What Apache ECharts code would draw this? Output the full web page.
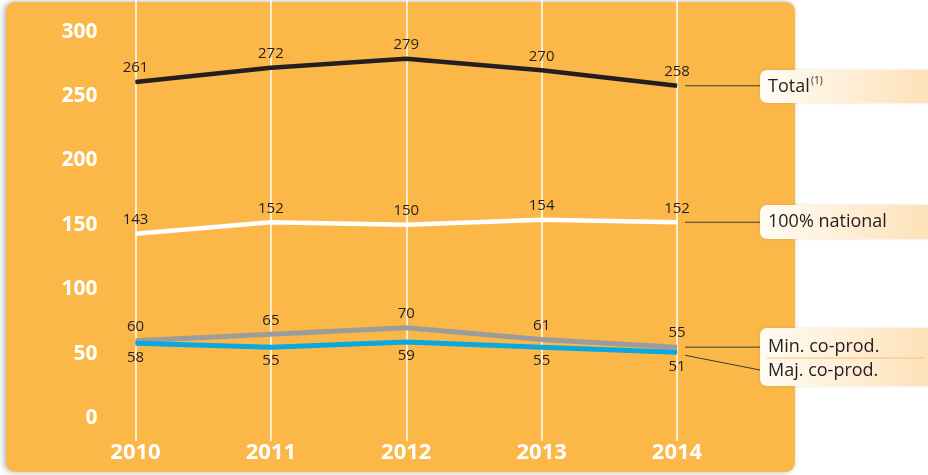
<!DOCTYPE html>
<html>
<head>
<meta charset="utf-8">
<script src="https://cdn.jsdelivr.net/npm/echarts@6/dist/echarts.min.js"></script>
<style>
  html, body { margin: 0; padding: 0; background: #ffffff; }
  #main { width: 928px; height: 475px; }
</style>
</head>
<body>
<div id="main"></div>
<script>
// data
var years = ['2010', '2011', '2012', '2013', '2014'];
var totalVals = [261, 272, 279, 270, 258];
var nationalVals = [143, 152, 150, 154, 152];
var minCoProd = [60, 65, 70, 61, 55];
var majCoProd = [58, 55, 59, 55, 51];
var yTicks = [0, 50, 100, 150, 200, 250, 300];

var FONT = '"Open Sans", "Noto Sans", sans-serif';
var DARK = '#231f20';

var chart = echarts.init(document.getElementById('main'));

function dataLabel(pos) {
	return {
		show: true,
		position: pos,
		distance: 6,
		color: DARK,
		fontSize: 15,
		fontFamily: FONT
	};
}

function lineSeries(name, data, color, width, pos) {
	return {
		name: name,
		type: 'line',
		data: data,
		symbol: 'circle',
		symbolSize: 1,
		showSymbol: true,
		itemStyle: { color: color },
		lineStyle: { color: color, width: width },
		label: dataLabel(pos),
		labelLayout: { hideOverlap: false }
	};
}

chart.setOption({
	animation: false,
	textStyle: { fontFamily: FONT },
	grid: { left: 135.5, right: 251, top: 0, bottom: 34 },
	xAxis: {
		type: 'category',
		data: years,
		boundaryGap: false,
		axisLine: { show: false },
		axisTick: { show: false },
		splitLine: { show: true, interval: 0, lineStyle: { color: '#ffffff', width: 1.5 } },
		axisLabel: {
			interval: 0,
			margin: 1,
			color: '#ffffff',
			fontSize: 22,
			fontWeight: 'bold',
			fontFamily: FONT
		}
	},
	yAxis: {
		type: 'value',
		min: -17.9,
		max: 324.6,
		axisLine: { show: false },
		axisTick: { show: false },
		splitLine: { show: false },
		axisLabel: {
			customValues: yTicks,
			margin: 38,
			color: '#ffffff',
			fontSize: 21,
			fontWeight: 'bold',
			fontFamily: FONT
		}
	},
	series: [
		lineSeries('Total', totalVals, DARK, 4.5, 'top'),
		lineSeries('100% national', nationalVals, '#ffffff', 4.5, 'top'),
		lineSeries('Min. co-prod.', minCoProd, '#9d9c9c', 5, 'top'),
		lineSeries('Maj. co-prod.', majCoProd, '#0aa8e1', 5, 'bottom')
	]
});

// side labels with leader lines, placed from the last data points
var last = years.length - 1;
function pt(series, vals) {
	return chart.convertToPixel({ seriesIndex: series }, [last, vals[last]]);
}
var pTotal = pt(0, totalVals);
var pNat = pt(1, nationalVals);
var pMin = pt(2, minCoProd);
var pMaj = pt(3, majCoProd);

var boxFill = new echarts.graphic.LinearGradient(0, 0, 1, 0, [
	{ offset: 0, color: '#fffbf3' },
	{ offset: 0.3, color: '#fff4e2' },
	{ offset: 1, color: '#fde0b6' }
]);

function box(y, h) {
	return {
		type: 'rect',
		shape: { x: 760, y: y, width: 175, height: h, r: 7 },
		style: { fill: boxFill, shadowBlur: 3, shadowColor: 'rgba(0,0,0,0.12)' },
		z: 10
	};
}
function txt(x, y, s, size) {
	return {
		type: 'text',
		x: x, y: y,
		style: { text: s, fill: DARK, font: size + 'px ' + FONT, textVerticalAlign: 'middle' },
		z: 11
	};
}
function leader(x1, y1, x2, y2) {
	return {
		type: 'line',
		shape: { x1: x1, y1: y1, x2: x2, y2: y2 },
		style: { stroke: '#3a3a3a', lineWidth: 1 },
		z: 10
	};
}

var gx = pTotal[0] + 8;

chart.setOption({
	graphic: [
		{
			type: 'rect',
			shape: { x: 6, y: 2, width: 789, height: 470, r: 9 },
			style: { fill: '#fbb848', shadowBlur: 6, shadowOffsetX: -2, shadowColor: 'rgba(0,0,0,0.3)' },
			z: -100
		},
		leader(gx, pTotal[1], 760, pTotal[1]),
		leader(gx, pNat[1], 760, pNat[1]),
		leader(gx, pMin[1], 760, pMin[1]),
		leader(gx, pMaj[1] + 3, 760, 370),
		box(70, 33),
		txt(768, 87, 'Total', 18),
		txt(811, 81, '(1)', 10),
		box(205, 34),
		txt(768, 222, '100% national', 18),
		box(328, 58),
		txt(768, 347, 'Min. co-prod.', 18),
		{
			type: 'line',
			shape: { x1: 767, y1: 358, x2: 925, y2: 358 },
			style: { stroke: '#f9c177', lineWidth: 1 },
			z: 11
		},
		txt(768, 371, 'Maj. co-prod.', 18)
	]
});
</script>
</body>
</html>
